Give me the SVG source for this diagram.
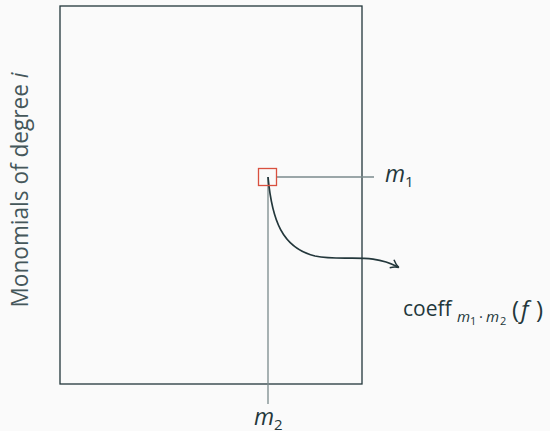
<svg xmlns="http://www.w3.org/2000/svg" width="550" height="431" viewBox="0 0 550 431">
<style>
.t{font-family:"Open Sans","Noto Sans",sans-serif;fill:#23373b}
.i{font-style:italic}
.ln{stroke:#7a8a8c;stroke-width:1.3;fill:none}
</style>
<defs>
<marker id="ah" markerWidth="12" markerHeight="12" refX="8" refY="6" orient="auto" markerUnits="userSpaceOnUse">
<path d="M1,1.5 Q5,5 9,6 Q5,7 1,10.5" fill="none" stroke="#23373b" stroke-width="1.5"/>
</marker>
</defs>
<rect width="550" height="431" fill="#fafafa"/>
<g id="matrix"><rect x="60" y="6" width="302" height="378" fill="none" stroke="#23373b" stroke-width="1.3"/></g>
<g id="label-rows"><text class="t" transform="translate(28,190) rotate(-90)" text-anchor="middle" font-size="24" textLength="235" lengthAdjust="spacingAndGlyphs" style="fill:#45575a">Monomials of degree <tspan class="i">i</tspan></text></g>
<g id="connectors">
<line class="ln" x1="277" y1="177" x2="374" y2="177"/>
<line class="ln" x1="268" y1="177" x2="268" y2="404"/>
<path d="M268,177 C272,220 282,248 315,256 C345,262 370,252 398,267" fill="none" stroke="#23373b" stroke-width="1.7" marker-end="url(#ah)"/>
</g>
<g id="entry"><rect x="258.5" y="168.5" width="18" height="17" fill="none" stroke="#d9503f" stroke-width="1.3"/></g>
<g id="m1"><text class="t i" x="385" y="182" font-size="23">m<tspan font-size="15" font-style="normal" dy="5">1</tspan></text></g>
<g id="m2"><text class="t i" x="254" y="425" font-size="23">m<tspan font-size="15" font-style="normal" dy="5">2</tspan></text></g>
<g id="coeff"><text class="t" y="316" font-size="21"><tspan x="403">coeff</tspan><tspan class="i" x="457" y="322" font-size="15">m</tspan><tspan x="470" y="325" font-size="11">1</tspan><tspan x="479" y="322" font-size="15">·</tspan><tspan class="i" x="486" y="322" font-size="15">m</tspan><tspan x="500" y="325" font-size="11">2</tspan><tspan x="512" y="318" font-size="24">(</tspan><tspan class="i" x="521" y="318" font-size="24">f</tspan><tspan x="536" y="318" font-size="24">)</tspan></text></g>
</svg>
